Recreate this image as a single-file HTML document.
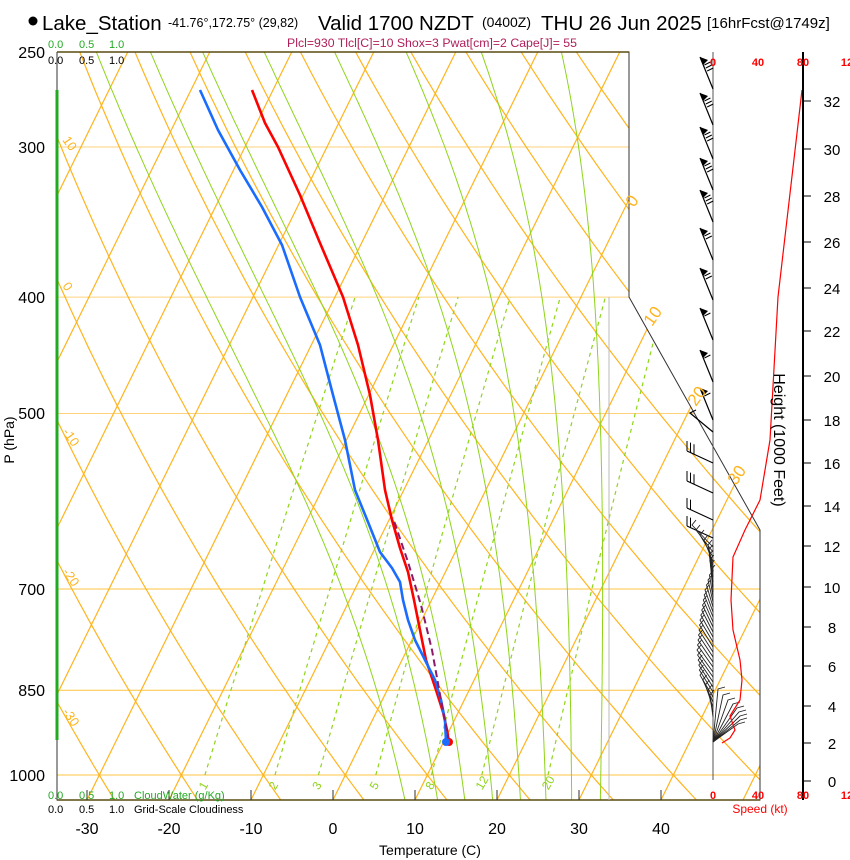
<!DOCTYPE html>
<html><head><meta charset="utf-8"><style>
body{margin:0;background:#fff;}
svg{display:block;font-family:"Liberation Sans",sans-serif;}
</style></head><body>
<svg id="s" width="850" height="860" xmlns="http://www.w3.org/2000/svg">
<defs><clipPath id="cp"><polygon points="57,52 629,52 629,297 760,530 760,800 57,800"/></clipPath></defs>
<g id="grid" clip-path="url(#cp)"></g>
<g id="prof"></g>
<g id="txt">
<circle cx="33" cy="21" r="4.5" fill="#000"/>
<text x="42" y="30" font-size="20.5">Lake_Station</text>
<text x="168" y="27" font-size="12.5">-41.76°,172.75° (29,82)</text>
<text x="318" y="30" font-size="20.5">Valid 1700 NZDT</text>
<text x="482" y="27" font-size="14">(0400Z)</text>
<text x="541" y="30" font-size="20.5">THU 26 Jun 2025</text>
<text x="707" y="28" font-size="15">[16hrFcst@1749z]</text>
<text x="432" y="47" font-size="12.3" fill="#b0205a" text-anchor="middle">Plcl=930 Tlcl[C]=10 Shox=3 Pwat[cm]=2 Cape[J]= 55</text>
<g font-size="11" fill="#22aa22"><text x="48" y="48">0.0</text><text x="79" y="48">0.5</text><text x="109" y="48">1.0</text></g>
<g font-size="11" fill="#000"><text x="48" y="64">0.0</text><text x="79" y="64">0.5</text><text x="109" y="64">1.0</text></g>
<g font-size="11" fill="#22aa22"><text x="48" y="799">0.0</text><text x="79" y="799">0.5</text><text x="109" y="799">1.0</text><text x="134" y="799">CloudWater (g/Kg)</text></g>
<g font-size="11" fill="#000"><text x="48" y="813">0.0</text><text x="79" y="813">0.5</text><text x="109" y="813">1.0</text><text x="134" y="813">Grid-Scale Cloudiness</text></g>
<g font-size="16" text-anchor="end"><text x="45" y="58">250</text><text x="45" y="153">300</text><text x="45" y="303">400</text><text x="45" y="419">500</text><text x="45" y="595">700</text><text x="45" y="696">850</text><text x="45" y="781">1000</text></g>
<text transform="translate(14,440) rotate(-90)" font-size="14" text-anchor="middle">P (hPa)</text>
<g font-size="16" text-anchor="middle"><text x="87" y="834">-30</text><text x="169" y="834">-20</text><text x="251" y="834">-10</text><text x="333" y="834">0</text><text x="415" y="834">10</text><text x="497" y="834">20</text><text x="579" y="834">30</text><text x="661" y="834">40</text></g>
<text x="430" y="855" font-size="14" text-anchor="middle">Temperature (C)</text>
<text transform="translate(774,440) rotate(90)" font-size="16" text-anchor="middle">Height (1000 Feet)</text>
<g font-size="11" font-weight="bold" fill="#f00" text-anchor="middle"><text x="713" y="66">0</text><text x="758" y="66">40</text><text x="803" y="66">80</text><text x="847" y="66">12</text>
<text x="713" y="799">0</text><text x="758" y="799">40</text><text x="803" y="799">80</text><text x="847" y="799">12</text></g>
<text x="760" y="813" font-size="12" fill="#f00" text-anchor="middle">Speed (kt)</text>
</g>
</svg>
<script>
var S=document.getElementById('s'),G=document.getElementById('grid'),P=document.getElementById('prof'),TX=document.getElementById('txt');
var NS='http://www.w3.org/2000/svg';
function el(par,tag,at,txt){var e=document.createElementNS(NS,tag);for(var k in at)e.setAttribute(k,at[k]);if(txt!==undefined)e.textContent=txt;par.appendChild(e);return e;}
function Y(p){return 775-521.6*Math.log(1000/p);}
function X(T,p){return 333+8.2*T+0.493*(800-Y(p));}
function line(par,pts,at){var d='';pts.forEach(function(q,i){d+=(i?'L':'M')+q[0].toFixed(1)+','+q[1].toFixed(1);});var a={d:d,fill:'none'};for(var k in at)a[k]=at[k];return el(par,'path',a);}
var OR='#ffb41e';
[300,400,500].forEach(function(p){line(G,[[57,Y(p)],[760,Y(p)]],{stroke:'#ffd27a','stroke-width':1});});
[700,850,1000].forEach(function(p){line(G,[[57,Y(p)],[760,Y(p)]],{stroke:'#ffc440','stroke-width':1});});
for(var T=-140;T<=60;T+=10){line(G,[[X(T,1050),Y(1050)],[X(T,240),Y(240)]],{stroke:OR,'stroke-width':1.2});}
for(var th=-50;th<=200;th+=10){var pts=[];for(var p=1060;p>=240;p-=10){pts.push([X((th+273.15)*Math.pow(p/1000,0.2857)-273.15,p),Y(p)]);}line(G,pts,{stroke:OR,'stroke-width':1.2});}
function es(Tc){return 6.112*Math.exp(17.67*Tc/(Tc+243.5));}
function dTdp(T,p){var Tc=T-273.15,e=es(Tc),rs=0.622*e/(p-e),Rd=287,Lv=2.5e6,cp=1005;return (Rd*T+Lv*rs)/(p*(cp+Lv*Lv*rs*0.622/(Rd*T*T)));}
[264,320,369,420,470,514,556,600].forEach(function(x5){
 var T5=(x5-333-0.493*(800-Y(500)))/8.2+273.15;var up=[],dn=[];var T=T5;
 for(var p=500;p>=240;p-=2){up.push([X(T-273.15,p),Y(p)]);T-=dTdp(T,p)*2;}
 T=T5;for(var p=500;p<=1060;p+=2){dn.push([X(T-273.15,p),Y(p)]);T+=dTdp(T,p)*2;}
 line(G,up.reverse().concat(dn),{stroke:'#8fd41a','stroke-width':1});});
function Td(w,p){var e=w*p/(622+w);var l=Math.log(e/6.112);return 243.5*l/(17.67-l);}
[1,2,3,5,8,12,20].forEach(function(w){var pts=[];for(var p=1000;p>=400;p-=20)pts.push([X(Td(w,p),p),Y(p)]);line(G,pts,{stroke:'#8fd41a','stroke-width':1.2,'stroke-dasharray':'4,4'});
 var x0=X(Td(w,1000),1000)-4;el(G,'text',{x:x0,y:793,'font-size':12,fill:'#8fd41a',transform:'rotate(-60 '+x0+' 788)'},String(w));});
[[10,62,140],[0,62,286],[-10,62,432],[-20,62,572],[-30,62,712]].forEach(function(a){el(G,'text',{x:a[1],y:a[2],'font-size':13,fill:OR,transform:'rotate(55 '+a[1]+' '+a[2]+')'},String(a[0]));});
[[0,634,208],[10,652,327],[20,696,407],[30,736,486]].forEach(function(a){el(TX,'text',{x:a[1],y:a[2],'font-size':17,fill:OR,transform:'rotate(-55 '+a[1]+' '+a[2]+')'},String(a[0]));});
line(P,[[57,52],[629,52],[629,297],[760,530],[760,800],[57,800],[57,52]],{stroke:'#333','stroke-width':1});
line(P,[[57,52],[629,52]],{stroke:'#5a4a10','stroke-width':1.5});
line(P,[[57,800],[760,800]],{stroke:'#5a4a10','stroke-width':1.5});
line(P,[[609,297],[609,800]],{stroke:'#bbb','stroke-width':1});
[-30,-20,-10,0,10,20,30,40].forEach(function(t){var x=333+8.2*t;line(P,[[x,790],[x,800]],{stroke:'#333'});});
line(P,[[57,90],[57,740]],{stroke:'#22aa22','stroke-width':3});
line(P,[[252,90],[265,123],[278,147],[300,195],[320,243],[343,297],[358,345],[370,395],[378,440],[385,490],[392,520],[400,548],[408,572],[414,600],[420,630],[426,660],[436,690],[443,712],[447,730],[449,742]],{stroke:'#f00','stroke-width':2.6,'stroke-linejoin':'round'});
line(P,[[200,90],[218,130],[240,170],[262,207],[282,245],[300,297],[320,345],[333,395],[345,440],[355,490],[368,522],[380,552],[392,568],[400,582],[403,600],[408,620],[415,640],[425,660],[435,680],[441,700],[445,720],[446,742]],{stroke:'#1a6cff','stroke-width':2.6,'stroke-linejoin':'round'});
line(P,[[449,742],[441,700],[432,650],[421,605],[408,562],[393,518]],{stroke:'#8b1a6b','stroke-width':2,'stroke-dasharray':'7,4'});
el(P,'circle',{cx:449,cy:742,r:4,fill:'#f00'});el(P,'circle',{cx:446,cy:742,r:4,fill:'#1a6cff'});
line(P,[[713,52],[713,780]],{stroke:'#555','stroke-width':1});
// upper barbs with flags
[57,93,127,158,190,228,268,308,350,388].forEach(function(y,i){var x1=700,y1=y;line(P,[[713,y+32],[x1,y1]],{stroke:'#000','stroke-width':1.2});
 el(P,'polygon',{points:x1+','+y1+' '+(x1+8)+','+(y1+3)+' '+(x1+3)+','+(y1+8),fill:'#000'});
 var nb=i<5?3:(i<7?2:1);for(var k=1;k<=nb;k++)line(P,[[x1+3+k*1.4,y1+k*3+5],[x1+9+k*1.4,y1+k*3+2]],{stroke:'#000'});});
// 500-550 barbs
line(P,[[713,432],[690,413],[696,410]],{stroke:'#000','stroke-width':1.2});
[[443,3],[473,3],[500,2],[518,2]].forEach(function(a){var y=a[0];line(P,[[713,y+20],[687,y+8]],{stroke:'#000','stroke-width':1.1});
 for(var k=0;k<a[1];k++){var xx=687+k*3.5,yy=y+8+k*1.6;line(P,[[xx,yy],[xx,yy-10]],{stroke:'#000'});}});
// mid barbs
function xl(y){var pts=[[525,692],[545,708],[570,711],[590,705],[620,700],[650,697],[675,700],[690,708],[700,712]];for(var i=1;i<pts.length;i++)if(y<=pts[i][0]){var a=pts[i-1],b=pts[i];return a[1]+(b[1]-a[1])*(y-a[0])/(b[0]-a[0]);}return 712;}
for(var y=525;y<=695;y+=5){var x=xl(y);line(P,[[713,y+22],[x,y],[x+4,y-5]],{stroke:'#222','stroke-width':0.9});}
// low barbs fan
[[718,689],[723,695],[728,700],[733,704],[737,708],[739,712],[740,716],[740,720],[738,724]].forEach(function(e){line(P,[[713,742],[e[0],e[1]],[e[0]+7,e[1]-2]],{stroke:'#222','stroke-width':0.9});});
line(P,[[802,90],[778,297],[770,440],[760,500],[745,530],[733,557],[731,600],[733,630],[740,660],[742,680],[740,700],[730,716],[735,730],[730,738],[722,743]],{stroke:'#f00','stroke-width':1.2});
line(P,[[803,52],[803,800]],{stroke:'#000','stroke-width':2});
[[0,781],[2,743],[4,706],[6,666],[8,627],[10,587],[12,546],[14,506],[16,463],[18,420],[20,376],[22,331],[24,288],[26,242],[28,196],[30,149],[32,101]].forEach(function(a){line(P,[[803,a[1]],[811,a[1]]],{stroke:'#000'});el(TX,'text',{x:832,y:a[1]+6,'font-size':15,'text-anchor':'middle'},String(a[0]));});
</script>
</body></html>
